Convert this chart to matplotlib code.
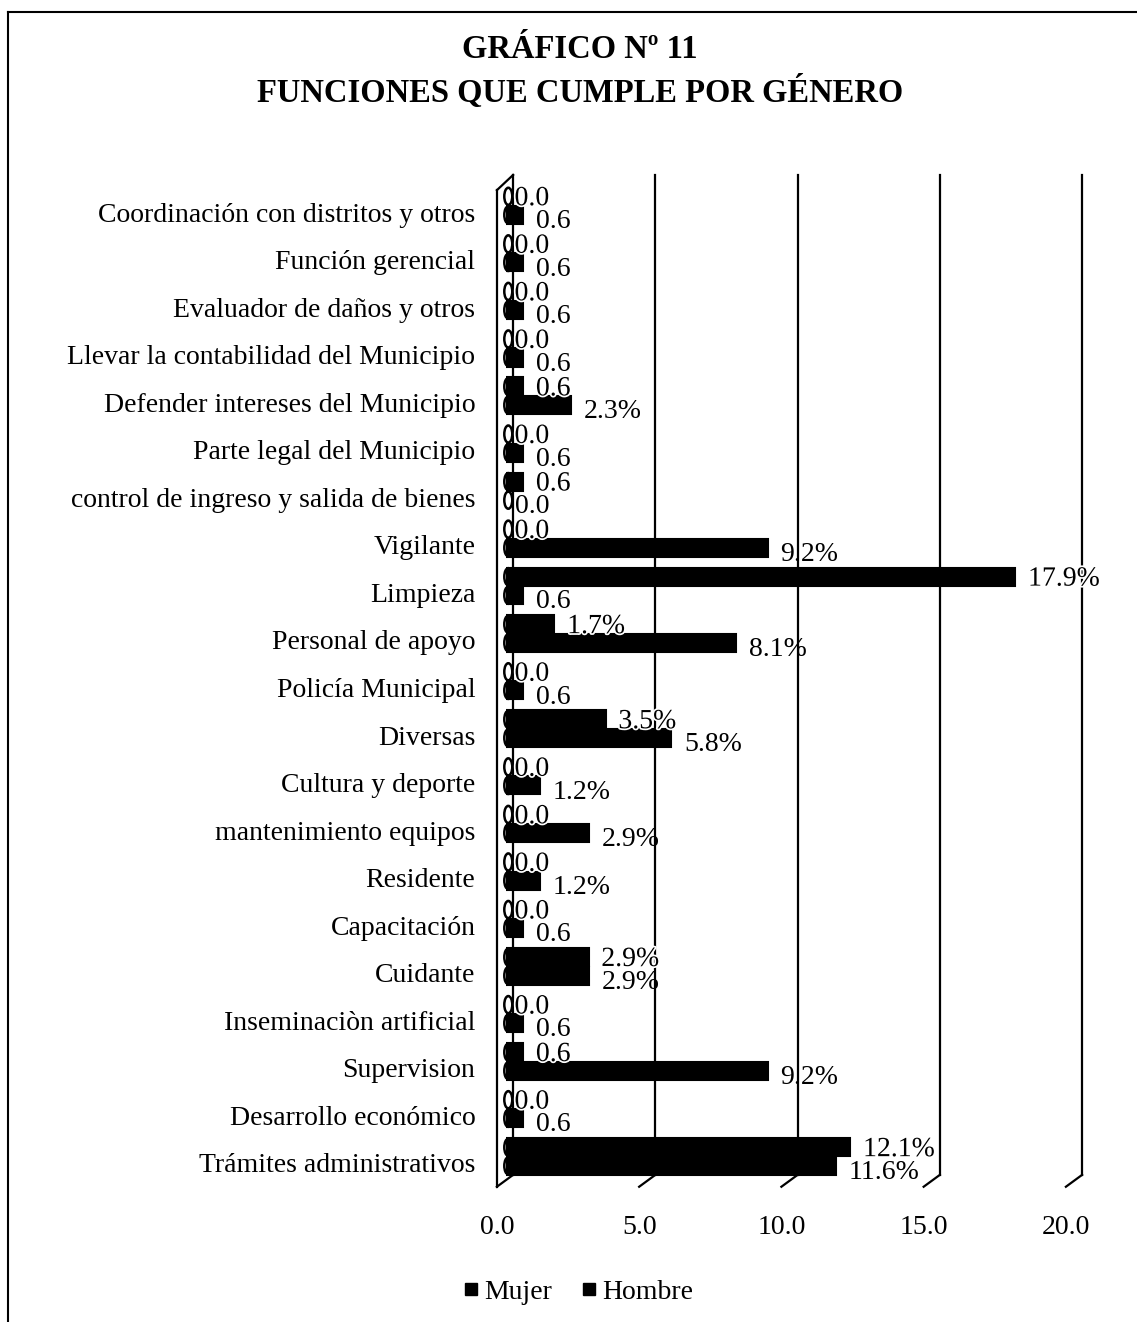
import matplotlib
matplotlib.use("Agg")
import matplotlib.pyplot as plt
import matplotlib.patheffects as pe
from matplotlib.lines import Line2D
from matplotlib.patches import Ellipse
from matplotlib.transforms import ScaledTranslation
import numpy as np

plt.rcParams['font.family'] = ['Liberation Serif', 'DejaVu Serif']

# funciones (de arriba hacia abajo) y porcentajes por genero
funciones = ["Coordinación con distritos y otros",
             "Función gerencial",
             "Evaluador de daños y otros",
             "Llevar la contabilidad del Municipio",
             "Defender intereses del Municipio",
             "Parte legal del Municipio",
             "control de ingreso y salida de bienes",
             "Vigilante",
             "Limpieza",
             "Personal de apoyo",
             "Policía Municipal",
             "Diversas",
             "Cultura y deporte",
             "mantenimiento equipos",
             "Residente",
             "Capacitación",
             "Cuidante",
             "Inseminaciòn artificial",
             "Supervision",
             "Desarrollo económico",
             "Trámites administrativos"]
mujer = [0.0, 0.0, 0.0, 0.0, 0.6, 0.0, 0.6, 0.0, 17.9, 1.7, 0.0,
         3.5, 0.0, 0.0, 0.0, 0.0, 2.9, 0.0, 0.6, 0.0, 12.1]
hombre = [0.6, 0.6, 0.6, 0.6, 2.3, 0.6, 0.0, 9.2, 0.6, 8.1, 0.6,
          5.8, 1.2, 2.9, 1.2, 0.6, 2.9, 0.6, 9.2, 0.6, 11.6]
ticks = [0, 5, 10, 15, 20]
tick_labels = ["0.0", "5.0", "10.0", "15.0", "20.0"]
series = ["Mujer", "Hombre"]

FS = 20
W, H = 1137, 1322
fig = plt.figure(figsize=(W / 100, H / 100), dpi=100)

# plot area (bar plane)
ax_left, ax_right = 506, 1075
ax_top, ax_bot = 183.5, 1191.5
ax = fig.add_axes([ax_left / W, 1 - ax_bot / H,
                   (ax_right - ax_left) / W, (ax_bot - ax_top) / H])
ax.set_xlim(0, 20)
ax.set_ylim(len(funciones) - 0.4, -0.6)
for s in ax.spines.values():
    s.set_visible(False)

y = np.arange(len(funciones))
bh = 0.38
off_m, off_h = -0.33, 0.06


def fmt(v):
    return "%.1f%%" % v if v >= 1 else "%.1f" % v


# pseudo-3D walls: back gridlines, floor slants and the left wall
back_dx, front_dx = 0.25, -0.32
y_back_top, y_back_bot = -0.78, 20.25
y_front_top, y_front_bot = -0.46, 20.5
lk = dict(color="black", lw=1.6, clip_on=False, zorder=1)
for t in ticks:
    if t > 0:
        ax.plot([t + back_dx, t + back_dx], [y_back_top, y_back_bot], **lk)
    ax.plot([t + back_dx, t + front_dx], [y_back_bot, y_front_bot], **lk)
ax.plot([back_dx, back_dx], [y_back_top, y_back_bot], **lk)
ax.plot([front_dx, front_dx], [y_front_top, y_front_bot], **lk)
ax.plot([front_dx, back_dx], [y_front_top, y_back_top], **lk)

# bars, with the round base of each cylinder
for vals, off, dy, halo in [(mujer, off_m, 0.05, True), (hombre, off_h, 0.14, False)]:
    for yi, v in zip(y, vals):
        yc = yi + off
        ax.add_patch(Ellipse((0.08, yc), 0.28, bh * 0.95, facecolor="white",
                             edgecolor="black", lw=1.8, zorder=2, clip_on=False))
        if v > 0:
            ax.barh(yc, v, height=bh, left=0.0, color="black",
                    edgecolor="black", lw=1.5, zorder=3)
        txt = ax.text(v + 0.45 if v > 0 else 0.3, yc + dy, fmt(v),
                      fontsize=FS, va="center", ha="left", zorder=5)
        if halo:
            txt.set_path_effects([pe.withStroke(linewidth=2.5, foreground="white")])

# axes ticks
ax.set_yticks(y)
ax.set_yticklabels(funciones, fontsize=FS)
ax.tick_params(axis="y", length=0, pad=22)
ax.set_xticks(ticks)
ax.set_xticklabels(tick_labels, fontsize=FS)
ax.tick_params(axis="x", length=0, pad=17)
shift = ScaledTranslation(-9 / 100, 0, fig.dpi_scale_trans)
for lab in ax.get_xticklabels():
    lab.set_transform(lab.get_transform() + shift)

# title
fig.text(580 / W, 1 - 50 / H, "GRÁFICO Nº 11", ha="center", va="center",
         fontsize=23.5, fontweight="bold")
fig.text(580 / W, 1 - 92 / H, "FUNCIONES QUE CUMPLE POR GÉNERO", ha="center",
         va="center", fontsize=23.5, fontweight="bold")

# legend
handles = [Line2D([], [], ls="none", marker="s", color="black", markersize=9)
           for _ in series]
fig.legend(handles, series, loc="center", bbox_to_anchor=(578 / W, 1 - 1292 / H),
           ncol=2, frameon=False, fontsize=FS, handlelength=0.6,
           handletextpad=0.2, columnspacing=1.0)

# page frame
fig.add_artist(Line2D([8 / W, 8 / W], [0, 1 - 12 / H], color="black", lw=1.5))
fig.add_artist(Line2D([8 / W, 1], [1 - 12 / H, 1 - 12 / H], color="black", lw=1.5))

fig.savefig("out.png", dpi=100)
